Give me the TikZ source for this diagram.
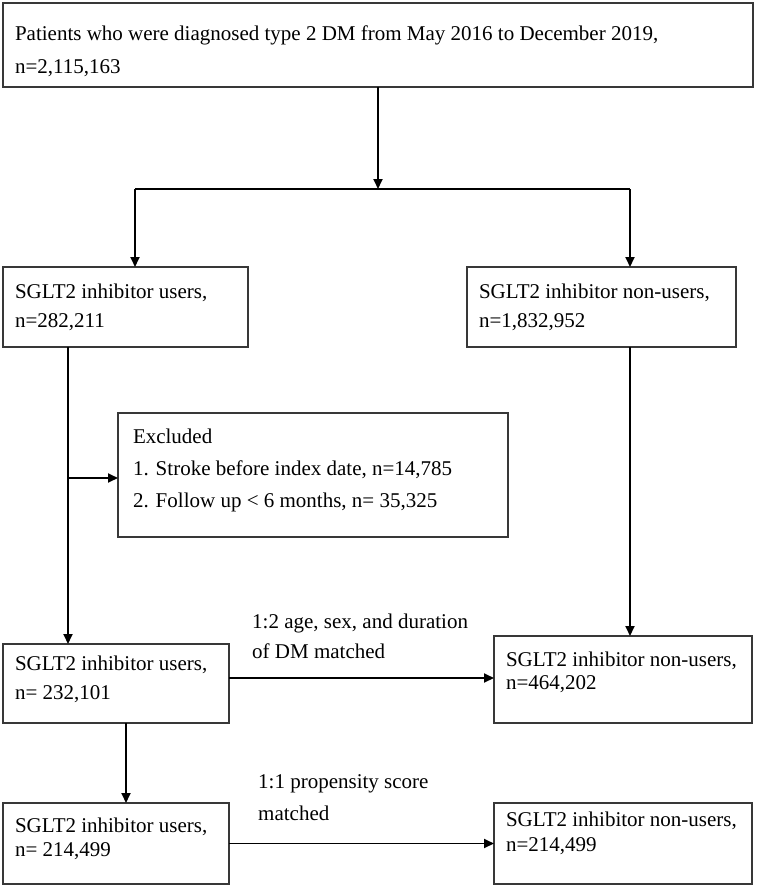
\documentclass[tikz,border=0pt]{standalone}
\usepackage{fontspec}
\setmainfont{Liberation Serif}
\usetikzlibrary{arrows.meta, calc, positioning}
\newcommand{\boxlines}[4]{\parbox[c][#2][t]{#1}{\raggedright\rule{0pt}{#3}#4}}

\begin{document}
\begin{tikzpicture}[x=1pt, y=-1pt,
  box/.style={draw=black!78, line width=1.2pt, anchor=north west,
    inner xsep=12pt, inner ysep=0pt, outer sep=0pt},
  link/.style={line width=1.8pt, -{Triangle[length=10pt,width=9pt]}},
  note/.style={anchor=north west, inner sep=0pt, align=left}]
\useasboundingbox (0,0) rectangle (765,888);

\node (DM) [box, font=\fontsize{21}{33}\selectfont] at (3,3)
  {\boxlines{726pt}{84pt}{38pt}{Patients who were diagnosed type 2 DM from May 2016 to December 2019,\\n=2,115,163}};
\node (Users) [box, font=\fontsize{21}{29}\selectfont] at (3,267)
  {\boxlines{221pt}{80pt}{31pt}{SGLT2 inhibitor users,\\n=282,211}};
\node (NonUsers) [box, font=\fontsize{21}{29}\selectfont] at (467,267)
  {\boxlines{245pt}{80pt}{31pt}{SGLT2 inhibitor non-users,\\n=1,832,952}};
\node (Excl) [box, inner xsep=15pt, font=\fontsize{21}{32}\selectfont] at (118,413)
  {\boxlines{360pt}{124pt}{30pt}{Excluded\\1. Stroke before index date, n=14,785\\2. Follow up < 6 months, n= 35,325}};
\node (UsersAge) [box, font=\fontsize{21}{29}\selectfont] at (3,644)
  {\boxlines{202pt}{79pt}{26pt}{SGLT2 inhibitor users,\\n= 232,101}};
\node (NonUsersAge) [box, font=\fontsize{21}{23}\selectfont] at (494,636)
  {\boxlines{234pt}{87pt}{30pt}{SGLT2 inhibitor non-users,\\n=464,202}};
\node (UsersPS) [box, font=\fontsize{21}{24}\selectfont] at (3,803)
  {\boxlines{202pt}{81pt}{29pt}{SGLT2 inhibitor users,\\n= 214,499}};
\node (NonUsersPS) [box, font=\fontsize{21}{25}\selectfont] at (494,803)
  {\boxlines{234pt}{81pt}{23pt}{SGLT2 inhibitor non-users,\\n=214,499}};

\node (AgeMatch) [note, font=\fontsize{21}{30}\selectfont] at (252,608)
  {\rule{0pt}{20pt}1:2 age, sex, and duration\\of DM matched};
\node (PSMatch) [note, font=\fontsize{21}{32}\selectfont] at (258,768)
  {\rule{0pt}{20pt}1:1 propensity score\\matched};

\coordinate (SplitL) at (135,189);
\coordinate (SplitR) at (630,189);
\coordinate (Branch) at (68,478);

\draw[link] (DM.south) -- (DM.south |- SplitL);
\draw[line width=1.8pt] (SplitL) -- (SplitR);
\draw[link] (SplitL) -- (SplitL |- Users.north);
\draw[link] (SplitR) -- (SplitR |- NonUsers.north);
\draw[link] (Branch |- Users.south) -- (Branch |- UsersAge.north);
\draw[link] (Branch) -- (Branch -| Excl.west);
\draw[link] (SplitR |- NonUsers.south) -- (SplitR |- NonUsersAge.north);
\draw[link] ([yshift=5.5pt]UsersAge.east) -- ([yshift=5.5pt]UsersAge.east -| NonUsersAge.west);
\draw[link] ([xshift=10pt]UsersAge.south) -- ([xshift=10pt]UsersAge.south |- UsersPS.north);
\draw[link] (UsersPS.east) -- (UsersPS.east -| NonUsersPS.west);
\end{tikzpicture}
\end{document}
